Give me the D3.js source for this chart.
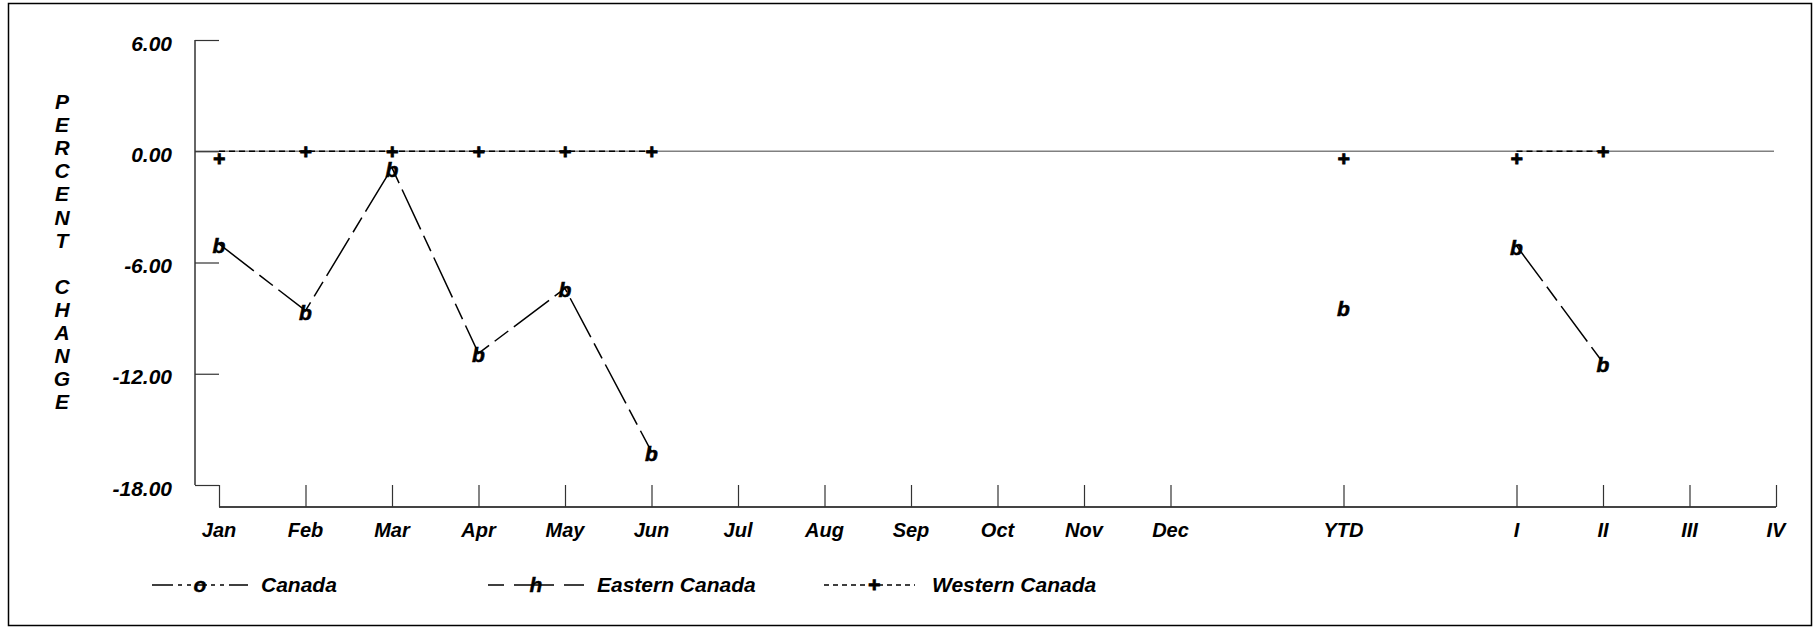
<!DOCTYPE html>
<html>
<head>
<meta charset="utf-8">
<script src="https://cdn.jsdelivr.net/npm/d3@7"></script>
<style>
  html, body { margin: 0; padding: 0; background: #fff; }
  svg { display: block; }
  text { font-family: "Liberation Sans", Arial, sans-serif; font-weight: bold; font-style: italic; fill: #000; }
</style>
</head>
<body>
<script>
// ---- data ----
const categories = ["Jan","Feb","Mar","Apr","May","Jun","Jul","Aug","Sep","Oct","Nov","Dec","YTD","I","II","III","IV"];
// axis slots (blank slots separate the month, YTD and quarter groups)
const xSlots = ["Jan","Feb","Mar","Apr","May","Jun","Jul","Aug","Sep","Oct","Nov","Dec","_gap1","YTD","_gap2","I","II","III","IV"];
const yTicks = [6, 0, -6, -12, -18];
const yTickLabels = ["6.00", "0.00", "-6.00", "-12.00", "-18.00"];
const yTitle = ["P","E","R","C","E","N","T","","C","H","A","N","G","E"];
// series plotted with the "b" glyph (long dash line)
const easternValues = [-5.0, -8.6, -0.9, -10.9, -7.4, -16.2, null, null, null, null, null, null, -8.4, -5.1, -11.4, null, null];
// Western Canada markers ("+")
const westernValues = [-0.35, 0, 0, 0, 0, 0, null, null, null, null, null, null, -0.35, -0.35, 0, null, null];
// Western Canada connecting dashed line as drawn
const westernLineValues = [0, 0, 0, 0, 0, 0, null, null, null, null, null, null, null, 0, 0, null, null];
const legendItems = [
  { name: "Canada", glyph: "o", dash: "21,5,4,5,4,4,12,4,4,5,4,5,21" },
  { name: "Eastern Canada", glyph: "h", dash: "16,10,40,10,20" },
  { name: "Western Canada", glyph: "+", dash: "5,4" }
];

// ---- layout ----
const W = 1814, H = 628;
const svg = d3.select("body").append("svg").attr("width", W).attr("height", H);

// outer frame
svg.append("rect").attr("x", 8.5).attr("y", 3.5).attr("width", 1803).attr("height", 622)
  .attr("fill", "none").attr("stroke", "#000").attr("stroke-width", 1.5);

const x = d3.scalePoint().domain(xSlots).range([219, 1776]);
const y = d3.scaleLinear().domain([-18, 6]).range([485, 40]);
const yAxisX = 195;
const xAxisY = 507;

// zero line
svg.append("line").attr("x1", yAxisX).attr("x2", 1774).attr("y1", y(0)).attr("y2", y(0))
  .attr("stroke", "#808080").attr("stroke-width", 1.5);

// y axis
const yAxis = d3.axisRight(y).tickValues(yTicks).tickSize(x("Jan") - yAxisX).tickFormat("");
const gy = svg.append("g").attr("transform", `translate(${yAxisX},0)`).call(yAxis);
gy.select(".domain").attr("stroke", "#333").attr("stroke-width", 1.5).attr("d", `M0,${y(6)}V${y(-18)}`);
gy.selectAll(".tick line").attr("stroke", "#333").attr("stroke-width", 1.2);
svg.append("g").selectAll("text").data(yTicks).join("text")
  .attr("x", 172).attr("y", (d) => y(d) + 10.5)
  .attr("text-anchor", "end").attr("font-size", 21)
  .text((d, i) => yTickLabels[i]);

// y title (stacked letters)
svg.append("g").selectAll("text").data(yTitle).join("text")
  .attr("x", 62).attr("y", (d, i) => 109 + i * 23.1)
  .attr("text-anchor", "middle").attr("font-size", 21)
  .text((d) => d);

// x axis
const xAxis = d3.axisTop(x).tickValues(categories).tickSize(xAxisY - y(-18)).tickFormat("");
const gx = svg.append("g").attr("transform", `translate(0,${xAxisY})`).call(xAxis);
gx.select(".domain").attr("stroke", "#444").attr("stroke-width", 2.2).attr("d", `M${x("Jan")},0H${x("IV")}`);
gx.selectAll(".tick line").attr("stroke", "#333").attr("stroke-width", 1.2);
svg.append("g").selectAll("text").data(categories).join("text")
  .attr("x", (d) => x(d)).attr("y", 537)
  .attr("text-anchor", "middle").attr("font-size", 20)
  .text((d) => d);

// helper: values along slot domain (gaps -> null)
function slotSeries(vals) {
  return xSlots.map((s) => {
    const i = categories.indexOf(s);
    return { key: s, v: i >= 0 ? vals[i] : null };
  });
}
const line = d3.line().defined((d) => d.v != null).x((d) => x(d.key)).y((d) => y(d.v));

// western dashed line
svg.append("path").attr("d", line(slotSeries(westernLineValues)))
  .attr("fill", "none").attr("stroke", "#000").attr("stroke-width", 1.3).attr("stroke-dasharray", "6,4");
// eastern long-dash line
svg.append("path").attr("d", line(slotSeries(easternValues)))
  .attr("fill", "none").attr("stroke", "#000").attr("stroke-width", 1.5).attr("stroke-dasharray", "44,7,17,7");

// markers
svg.append("g").selectAll("text").data(slotSeries(westernValues).filter((d) => d.v != null)).join("text")
  .attr("x", (d) => x(d.key)).attr("y", (d) => y(d.v) + 8)
  .attr("text-anchor", "middle").attr("font-size", 21).attr("font-style", "normal")
  .attr("stroke", "#000").attr("stroke-width", 0.9)
  .text("+");
svg.append("g").selectAll("text").data(slotSeries(easternValues).filter((d) => d.v != null)).join("text")
  .attr("x", (d) => x(d.key)).attr("y", (d) => y(d.v) + 9)
  .attr("text-anchor", "middle").attr("font-size", 21)
  .attr("stroke", "#000").attr("stroke-width", 0.6)
  .text("b");

// legend
const legendX = [152, 488, 824];
const legendW = [96, 96, 91];
const legendY = 585;
const lg = svg.append("g").selectAll("g").data(legendItems).join("g")
  .attr("transform", (d, i) => `translate(${legendX[i]},${legendY})`);
lg.append("line").attr("x1", 0).attr("x2", (d, i) => legendW[i]).attr("y1", 0).attr("y2", 0)
  .attr("stroke", "#000").attr("stroke-width", 1.5).attr("stroke-dasharray", (d) => d.dash);
lg.append("text").attr("x", (d, i) => (i === 2 ? 50 : 48)).attr("y", 7)
  .attr("text-anchor", "middle").attr("font-size", 21)
  .attr("font-style", (d) => (d.glyph === "+" ? "normal" : "italic"))
  .attr("stroke", "#000").attr("stroke-width", (d) => (d.glyph === "+" ? 0.9 : 0.4))
  .text((d) => d.glyph);
lg.append("text").attr("x", (d, i) => legendW[i] + (i === 2 ? 17 : 13)).attr("y", 7)
  .attr("font-size", 21).text((d) => d.name);
</script>
</body>
</html>
